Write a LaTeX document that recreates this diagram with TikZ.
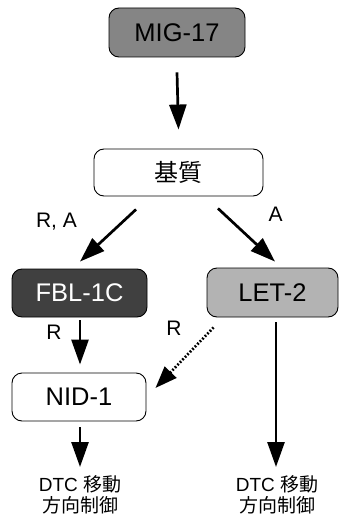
\documentclass[tikz,border=0pt]{standalone}
\usepackage{fontspec}
\setmainfont{Liberation Sans}
\newfontfamily\cjk{Noto Sans CJK JP}
\usetikzlibrary{arrows.meta,calc}
\definecolor{migfill}{HTML}{858585}
\definecolor{fblfill}{HTML}{404040}
\definecolor{letfill}{HTML}{B3B3B3}
\tikzset{
  box/.style={draw=black, line width=0.9pt, rounded corners=10pt, inner sep=0pt, font=\fontsize{25.5}{28}\selectfont},
  arr/.style={line width=2.7pt, -{Triangle[length=25pt,width=17pt]}},
  dotarr/.style={line width=2.7pt, dash pattern=on 1.8pt off 1.8pt, -{Triangle[length=22pt,width=16pt]}},
  lbl/.style={inner sep=0pt, font=\fontsize{21}{23}\selectfont},
  outtxt/.style={inner sep=0pt, align=center, font=\fontsize{19}{21}\selectfont}
}
\begin{document}
\begin{tikzpicture}[x=1pt,y=-1pt]
\useasboundingbox (0,0) rectangle (339,516);
\node[box, fill=migfill, minimum width=136pt, minimum height=49pt] (mig) at (177,32.5) {MIG-17};
\node[box, fill=white, minimum width=169pt, minimum height=47pt] (sub) at (178.5,172.5) {\cjk\fontsize{24}{26}\selectfont 基質};
\node[box, fill=fblfill, text=white, minimum width=135pt, minimum height=48pt] (fbl) at (79.5,293) {FBL-1C};
\node[box, fill=letfill, minimum width=131pt, minimum height=49pt] (let) at (272.5,292.5) {LET-2};
\node[box, fill=white, minimum width=134pt, minimum height=48pt] (nid) at (79,397) {NID-1};
\node[outtxt, anchor=north] (out1) at (80,475) {DTC {\cjk 移動}\\{\cjk 方向制御}};
\node[outtxt, anchor=north] (out2) at (277,475) {DTC {\cjk 移動}\\{\cjk 方向制御}};
\node[lbl] (lra) at (56.5,221.5) {R, A};
\node[lbl] (la) at (275.5,214) {A};
\node[lbl] (lr1) at (54,332) {R};
\node[lbl] (lr2) at (174,328) {R};
\draw[arr] ($(mig.south)+(0,15)$) -- ($(sub.north)+(0,-19)$);
\draw[arr] ($(sub.south)+(-42.5,13)$) -- ($(fbl.north)+(0.5,-7)$);
\draw[arr] ($(sub.south)+(39.5,12)$) -- ($(let.north)+(2.5,-6)$);
\draw[arr] ($(fbl.south)+(0.5,3)$) -- ($(nid.north)+(1,-8)$);
\draw[dotarr] ($(let.south west)+(7,10)$) -- ($(nid.east)+(9,-9)$);
\draw[arr] ($(nid.south)+(1,6)$) -- ($(out1.north)+(0,-8)$);
\draw[arr] ($(let.south)+(3.5,5)$) -- ($(out2.north)+(-1,-8)$);
\end{tikzpicture}
\end{document}
